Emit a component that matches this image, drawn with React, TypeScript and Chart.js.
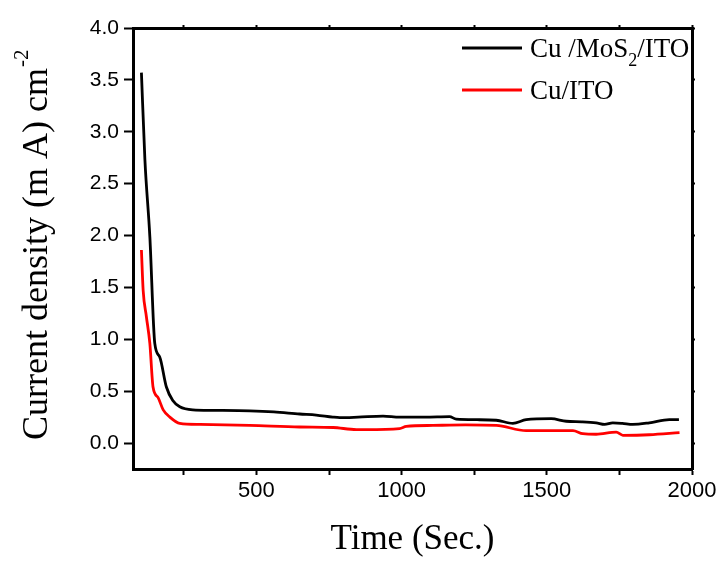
import React, { useEffect, useRef } from "react";
import { Chart, registerables } from "chart.js";

Chart.register(...registerables);

// ---- data ----
const blackTime = [104, 116, 133, 150, 167, 190, 212, 236, 281, 350, 477, 560, 649, 706, 763, 787, 850, 936, 993, 1080, 1165, 1188, 1260, 1326, 1383, 1429, 1515, 1567, 1620, 1670, 1699, 1727, 1760, 1796, 1853, 1922, 1955];
const blackValue = [3.57, 2.73, 1.99, 0.96, 0.83, 0.54, 0.41, 0.35, 0.32, 0.315, 0.31, 0.3, 0.28, 0.27, 0.25, 0.245, 0.25, 0.26, 0.25, 0.25, 0.255, 0.23, 0.225, 0.22, 0.19, 0.225, 0.235, 0.21, 0.205, 0.195, 0.18, 0.195, 0.19, 0.18, 0.195, 0.225, 0.225];

const redTime = [104, 110, 121, 133, 144, 161, 179, 202, 236, 305, 477, 649, 764, 844, 878, 993, 1016, 1108, 1220, 1326, 1429, 1590, 1624, 1670, 1739, 1762, 1853, 1957];
const redValue = [1.86, 1.47, 1.22, 0.96, 0.54, 0.44, 0.32, 0.25, 0.19, 0.18, 0.17, 0.155, 0.15, 0.13, 0.13, 0.14, 0.16, 0.17, 0.175, 0.17, 0.12, 0.12, 0.09, 0.085, 0.105, 0.075, 0.08, 0.1];

const seriesLabels = ["Cu /MoS2/ITO", "Cu/ITO"];
const seriesColors = ["#000000", "#ff0000"];

const xTickValues = [250, 500, 750, 1000, 1250, 1500, 1750, 2000];
const xLabelledTicks = [500, 1000, 1500, 2000];
const yTickValues = [0, 0.5, 1, 1.5, 2, 2.5, 3, 3.5, 4];

const xTitle = "Time (Sec.)";
const yTitleMain = "Current density (m A) cm";
const yTitleSup = "-2";

const X_MIN = 75;
const X_MAX = 2000;
const Y_MIN = -0.25;
const Y_MAX = 4.0;

const decorPlugin = {
  id: "decor",
  afterDraw(chart: any) {
    const ctx = chart.ctx as CanvasRenderingContext2D;
    // y title with superscript
    ctx.save();
    ctx.fillStyle = "#000";
    ctx.translate(47, 440);
    ctx.rotate(-Math.PI / 2);
    ctx.textAlign = "left";
    ctx.textBaseline = "alphabetic";
    ctx.font = "36px 'Liberation Serif'";
    ctx.fillText(yTitleMain, 0, 0);
    const w = ctx.measureText(yTitleMain).width;
    ctx.font = "21px 'Liberation Serif'";
    ctx.fillText(yTitleSup, w + 1, -19);
    ctx.restore();

    // legend
    chart.data.datasets.forEach((ds: any, i: number) => {
      const ly = 48 + i * 42;
      ctx.save();
      ctx.strokeStyle = ds.borderColor;
      ctx.lineWidth = 3;
      ctx.beginPath();
      ctx.moveTo(462, ly);
      ctx.lineTo(522, ly);
      ctx.stroke();
      ctx.fillStyle = "#000";
      ctx.textBaseline = "alphabetic";
      ctx.textAlign = "left";
      let x = 530;
      const base = 57 + i * 42;
      const parts = String(ds.label).split(/(\d)/);
      parts.forEach((p: string) => {
        if (!p) return;
        if (/^\d$/.test(p)) {
          ctx.font = "18px 'Liberation Serif'";
          ctx.fillText(p, x, base + 9);
          x += ctx.measureText(p).width;
        } else {
          ctx.font = "27px 'Liberation Serif'";
          ctx.fillText(p, x, base);
          x += ctx.measureText(p).width;
        }
      });
      ctx.restore();
    });
  },
};

export default function App() {
  const canvasRef = useRef<HTMLCanvasElement | null>(null);

  useEffect(() => {
    const canvas = canvasRef.current;
    if (!canvas) return;
    const tickFont = { family: "'Liberation Sans', Arial, sans-serif", size: 22 };
    const chart = new Chart(canvas, {
      type: "line",
      data: {
        datasets: [
          {
            label: seriesLabels[0],
            data: blackTime.map((t, i) => ({ x: t, y: blackValue[i] })),
            borderColor: seriesColors[0],
            borderWidth: 2.8,
            pointRadius: 0,
            cubicInterpolationMode: "monotone",
            fill: false,
          },
          {
            label: seriesLabels[1],
            data: redTime.map((t, i) => ({ x: t, y: redValue[i] })),
            borderColor: seriesColors[1],
            borderWidth: 2.8,
            pointRadius: 0,
            cubicInterpolationMode: "monotone",
            fill: false,
          },
        ],
      },
      options: {
        responsive: false,
        animation: false,
        maintainAspectRatio: false,
        layout: { padding: 0 },
        plugins: { legend: { display: false }, tooltip: { enabled: false } },
        scales: {
          x: {
            type: "linear",
            position: "bottom",
            min: X_MIN,
            max: X_MAX,
            afterBuildTicks: (s: any) => {
              s.ticks = xTickValues.map((v) => ({ value: v }));
            },
            afterFit: (s: any) => {
              s.height = 94;
            },
            ticks: {
              color: "#000",
              font: tickFont,
              padding: 3,
              maxRotation: 0,
              autoSkip: false,
              callback: (v: any) => (xLabelledTicks.includes(Number(v)) ? String(v) : ""),
            },
            grid: { display: true, drawOnChartArea: false, drawTicks: true, tickLength: 6, tickWidth: 2, tickColor: "#000" },
            border: { display: true, width: 3, color: "#000" },
            title: {
              display: true,
              text: xTitle,
              color: "#000",
              font: { family: "'Liberation Serif', serif", size: 35 },
              padding: { top: 0, bottom: 2 },
            },
          },
          x2: {
            type: "linear",
            position: "top",
            min: X_MIN,
            max: X_MAX,
            afterBuildTicks: (s: any) => {
              s.ticks = xTickValues.map((v) => ({ value: v }));
            },
            afterFit: (s: any) => {
              s.height = 28;
            },
            ticks: { display: false },
            grid: { display: true, drawOnChartArea: false, drawTicks: true, tickLength: 3, tickWidth: 2, tickColor: "#000" },
            border: { display: true, width: 3, color: "#000" },
          },
          y: {
            type: "linear",
            position: "left",
            min: Y_MIN,
            max: Y_MAX,
            afterBuildTicks: (s: any) => {
              s.ticks = yTickValues.map((v) => ({ value: v }));
            },
            afterFit: (s: any) => {
              s.width = 133;
            },
            ticks: {
              color: "#000",
              font: { family: "'Liberation Sans', Arial, sans-serif", size: 21 },
              padding: 5,
              callback: (v: any) => Number(v).toFixed(1),
            },
            grid: { display: true, drawOnChartArea: false, drawTicks: true, tickLength: 9, tickWidth: 2, tickColor: "#000" },
            border: { display: true, width: 3, color: "#000" },
          },
          y2: {
            type: "linear",
            position: "right",
            min: Y_MIN,
            max: Y_MAX,
            afterBuildTicks: (s: any) => {
              s.ticks = yTickValues.map((v) => ({ value: v }));
            },
            afterFit: (s: any) => {
              s.width = 33;
            },
            ticks: { display: false },
            grid: { display: true, drawOnChartArea: false, drawTicks: true, tickLength: 3, tickWidth: 2, tickColor: "#000" },
            border: { display: true, width: 3, color: "#000" },
          },
        },
      },
      plugins: [decorPlugin],
    } as any);
    return () => chart.destroy();
  }, []);

  return (
    <div style={{ position: "absolute", left: 0, top: 0, width: 725, height: 563, background: "#fff" }}>
      <canvas ref={canvasRef} width={725} height={563} style={{ width: 725, height: 563, display: "block" }} />
    </div>
  );
}
